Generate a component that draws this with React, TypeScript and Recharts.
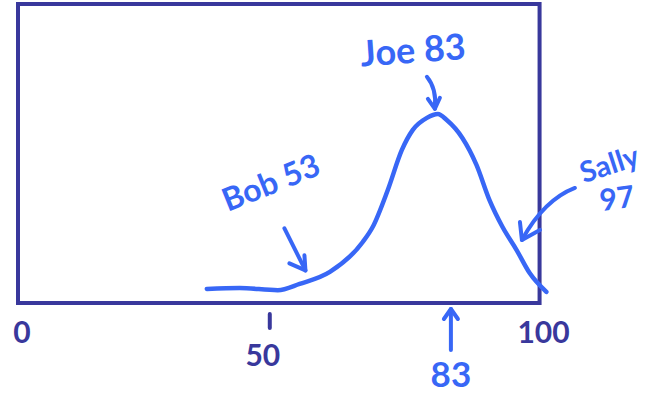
import { ComposedChart, Line, ReferenceArea, ReferenceDot, XAxis, YAxis } from "recharts";

const NAVY = "#39389C";
const BLUE = "#3867F6";
const FONT = "Lato, 'Noto Sans', sans-serif";

// score distribution curve
const scoreX = [36.2, 42.5, 49.8, 54.0, 59.8, 66.1, 68.0, 70.9, 73.6, 75.7, 78.4, 80.5, 82.2, 85.2, 87.9, 90.4, 92.9, 95.6, 98.1, 101.3];
const density = [4.7, 5.0, 4.3, 6.4, 10.4, 20.4, 25.4, 37.8, 51.2, 57.9, 61.9, 63.2, 61.2, 55.2, 46.2, 34.4, 25.4, 17.7, 10.0, 3.7];

const axisTicks = [0, 50, 100];

const students = ["Bob", "Joe", "Sally"];
const scores = [53, 83, 97];

const highlightScore = 83;

const curve = scoreX.map((x, i) => ({ x, y: density[i] }));

// height of the curve at a given score (linear between read points)
function curveAt(x: number) {
  for (let i = 1; i < scoreX.length; i++) {
    if (x <= scoreX[i]) {
      const t = (x - scoreX[i - 1]) / (scoreX[i] - scoreX[i - 1]);
      return density[i - 1] + t * (density[i] - density[i - 1]);
    }
  }
  return density[density.length - 1];
}

const handText = {
  fontFamily: FONT,
  fontWeight: 700,
  fill: BLUE,
};

const stroke = {
  stroke: BLUE,
  strokeWidth: 4,
  strokeLinecap: "round" as const,
  strokeLinejoin: "round" as const,
  fill: "none",
};

function BobNote({ cx, cy, label }: any) {
  const tx = cx + 11;
  const ty = cy - 15;
  return (
    <g>
      <text {...handText} fontSize={32} x={cx - 24} y={cy - 104} textAnchor="middle" dominantBaseline="central"
        transform={`rotate(-22 ${cx - 24} ${cy - 104})`}>{label}</text>
      <path {...stroke} d={`M${tx - 21},${ty - 42} L${tx},${ty}`} />
      <path {...stroke} d={`M${tx - 16},${ty - 7} L${tx},${ty} L${tx - 1},${ty - 15}`} />
    </g>
  );
}

function JoeNote({ cx, cy, label }: any) {
  const tx = cx - 16;
  const ty = cy - 16;
  return (
    <g>
      <text {...handText} fontSize={36} x={cx - 38} y={cy - 76} textAnchor="middle" dominantBaseline="central"
        transform={`rotate(-4 ${cx - 38} ${cy - 76})`}>{label}</text>
      <path {...stroke} d={`M${tx - 8},${ty - 32} Q${tx + 2},${ty - 20} ${tx},${ty}`} />
      <path {...stroke} d={`M${tx - 7},${ty - 10} L${tx},${ty} L${tx + 5},${ty - 11}`} />
    </g>
  );
}

function SallyNote({ cx, cy, name, score }: any) {
  const tx = cx - 2;
  const ty = cy - 23;
  return (
    <g>
      <text {...handText} fontSize={29} x={cx + 85} y={cy - 100} textAnchor="middle" dominantBaseline="central"
        transform={`rotate(-18 ${cx + 85} ${cy - 100})`}>{name}</text>
      <text {...handText} fontSize={30} x={cx + 93} y={cy - 66} textAnchor="middle" dominantBaseline="central"
        transform={`rotate(-8 ${cx + 93} ${cy - 66})`}>{score}</text>
      <path {...stroke} d={`M${tx + 53},${ty - 52} Q${tx + 22},${ty - 40} ${tx},${ty}`} />
      <path {...stroke} d={`M${tx - 2},${ty - 18} L${tx},${ty} L${tx + 18},${ty - 10}`} />
    </g>
  );
}

function AxisArrow({ cx, cy, label }: any) {
  return (
    <g>
      <path {...stroke} d={`M${cx},${cy + 47} L${cx},${cy + 6}`} />
      <path {...stroke} d={`M${cx - 7},${cy + 16} L${cx},${cy + 6} L${cx + 7},${cy + 16}`} />
      <text {...handText} fontSize={35} x={cx} y={cy + 84} textAnchor="middle">{label}</text>
    </g>
  );
}

function ScoreTick({ x, y, payload }: any) {
  const v = payload.value;
  const mid = v === 50;
  return (
    <g>
      {mid && (
        <path d={`M${x - 9},${y + 3} L${x - 9},${y + 17}`} stroke={NAVY} strokeWidth={4} strokeLinecap="round" />
      )}
      <text x={mid ? x - 16 : x + 4} y={mid ? y + 55 : y + 32} textAnchor="middle"
        fontFamily={FONT} fontWeight={700} fontSize={30} fill={NAVY}>{v}</text>
    </g>
  );
}

const notes = [BobNote, JoeNote];

export default function App() {
  return (
    <div style={{ position: "absolute", left: 0, top: 0, background: "#fff" }}>
      <ComposedChart width={647} height={395} data={curve}
        margin={{ top: 4, right: 97, bottom: 32, left: 18 }}>
        <XAxis type="number" dataKey="x" domain={[0, 102]} ticks={axisTicks}
          axisLine={false} tickLine={false} height={60} tick={<ScoreTick />} interval={0} />
        <YAxis hide domain={[0, 100]} />
        <ReferenceArea x1={0} x2={100} y1={0} y2={100} fill="none" stroke={NAVY} strokeWidth={4} />
        <Line dataKey="y" type="monotone" stroke={BLUE} strokeWidth={4.5} strokeLinecap="round"
          dot={false} activeDot={false} isAnimationActive={false} />
        {notes.map((Note, i) => (
          <ReferenceDot key={students[i]} x={scores[i]} y={curveAt(scores[i])} r={0}
            shape={(p: any) => <Note {...p} label={`${students[i]} ${scores[i]}`} />} />
        ))}
        <ReferenceDot x={scores[2]} y={curveAt(scores[2])} r={0}
          shape={(p: any) => <SallyNote {...p} name={students[2]} score={scores[2]} />} />
        <ReferenceDot x={highlightScore} y={0} r={0}
          shape={(p: any) => <AxisArrow {...p} label={highlightScore} />} />
      </ComposedChart>
    </div>
  );
}
